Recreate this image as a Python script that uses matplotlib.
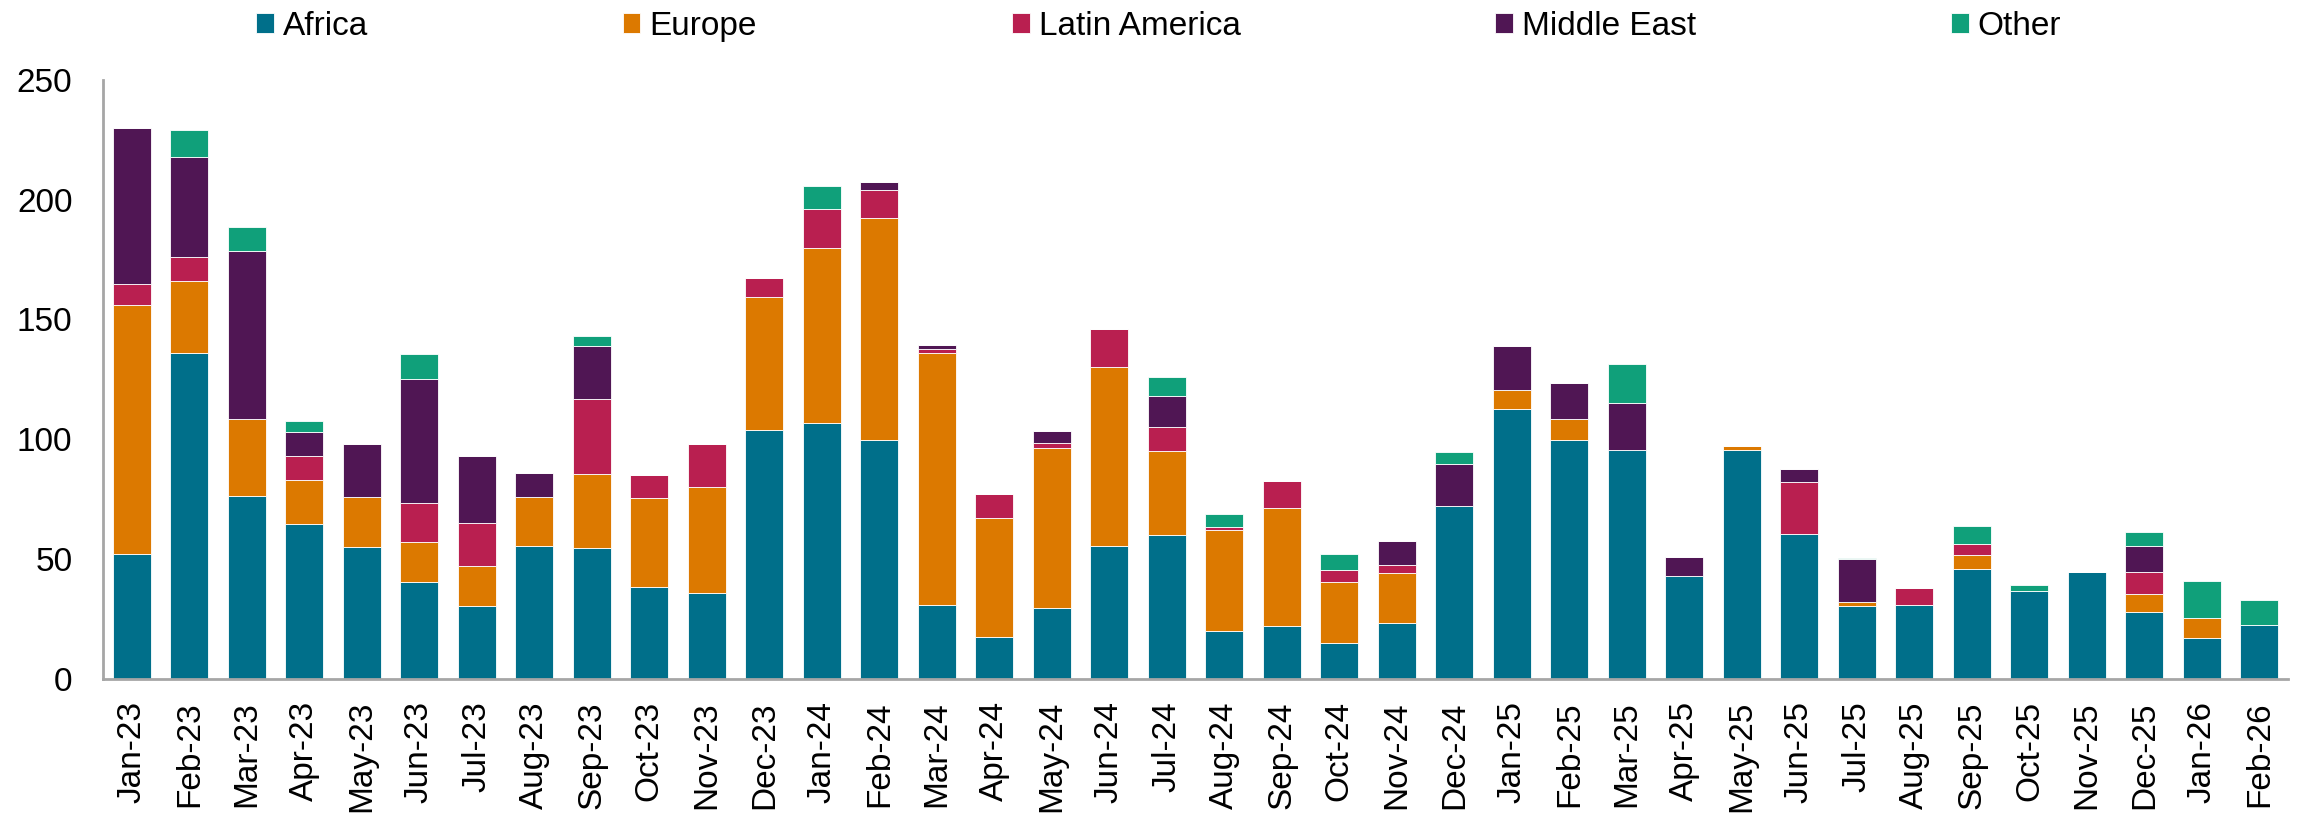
import matplotlib
matplotlib.use("Agg")
import matplotlib.pyplot as plt
import numpy as np

months = ["Jan-23", "Feb-23", "Mar-23", "Apr-23", "May-23", "Jun-23", "Jul-23", "Aug-23",
          "Sep-23", "Oct-23", "Nov-23", "Dec-23", "Jan-24", "Feb-24", "Mar-24", "Apr-24",
          "May-24", "Jun-24", "Jul-24", "Aug-24", "Sep-24", "Oct-24", "Nov-24", "Dec-24",
          "Jan-25", "Feb-25", "Mar-25", "Apr-25", "May-25", "Jun-25", "Jul-25", "Aug-25",
          "Sep-25", "Oct-25", "Nov-25", "Dec-25", "Jan-26", "Feb-26"]

africa = [52, 136, 76.5, 64.5, 55, 40.5, 30.5, 55.5, 54.5, 38.5, 36, 104, 107, 99.5, 31, 17.5,
          29.5, 55.5, 60, 20, 22, 15, 23.5, 72, 112.5, 99.5, 95.5, 43, 95.5, 60.5, 30.5, 31,
          46, 36.5, 44.5, 28, 17, 22.5]
europe = [104, 30, 32, 18.5, 21, 16.5, 16.5, 20.5, 31, 37, 44, 55.5, 73, 93, 105, 49.5,
          67, 74.5, 35, 42, 49.5, 25.5, 20.5, 0, 8, 9, 0, 0, 1.5, 0, 1.5, 0,
          5.5, 0, 0, 7.5, 8.5, 0]
latin_america = [9, 10, 0, 10, 0, 16.5, 18, 0, 31.5, 9.5, 18, 8, 16, 11.5, 1.5, 10,
                 2, 16, 10, 1.5, 11, 5, 3.5, 0, 0, 0, 0, 0, 0, 21.5, 0, 7,
                 5, 0, 0, 9, 0, 0]
middle_east = [65, 42, 70, 10, 22, 51.5, 28, 10, 22, 0, 0, 0, 0, 3.5, 2, 0,
               5, 0, 13, 0, 0, 0, 10, 17.5, 18.5, 15, 19.5, 8, 0, 5.5, 18, 0,
               0, 0, 0, 11, 0, 0]
other = [0, 11, 10, 4.5, 0, 10.5, 0, 0, 4, 0, 0, 0, 9.5, 0, 0, 0,
         0, 0, 8, 5.5, 0, 6.5, 0, 5, 0, 0, 16.5, 0, 0, 0, 0.5, 0,
         7.5, 2.5, 0, 6, 15.5, 10.5]

series = [("Africa", africa, "#006F8A"),
          ("Europe", europe, "#DC7900"),
          ("Latin America", latin_america, "#B91F50"),
          ("Middle East", middle_east, "#501654"),
          ("Other", other, "#10A07A")]

plt.rcParams["font.family"] = ["Liberation Sans", "DejaVu Sans"]

fig = plt.figure(figsize=(23.05, 8.15), dpi=100)
ax = fig.add_axes([0.0447, 0.167, 0.948, 0.735])

x = np.arange(len(months))
bottom = np.zeros(len(months))
handles = []
for name, vals, color in series:
    vals = np.array(vals, dtype=float)
    b = ax.bar(x, vals, bottom=bottom, width=0.66, color=color, label=name,
               edgecolor="white", linewidth=0.6)
    handles.append(b)
    bottom += vals

ax.set_xlim(-0.5, len(months) - 0.5)
ax.set_ylim(0, 250)
ax.set_yticks(range(0, 251, 50))
ax.set_xticks(x)
ax.set_xticklabels(months, rotation=90, fontsize=24)
ax.tick_params(axis="y", labelsize=24, length=0, pad=22)
ax.tick_params(axis="x", length=0, pad=16)

for side in ["top", "right"]:
    ax.spines[side].set_visible(False)
for side in ["left", "bottom"]:
    ax.spines[side].set_color("#A6A6A6")
    ax.spines[side].set_linewidth(2)

fig.legend(handles=handles, loc="center left", bbox_to_anchor=(0.098, 0.968), ncol=5,
           frameon=False, fontsize=24, handlelength=0.53, handleheight=0.53,
           handletextpad=0.27, columnspacing=7.65)

fig.savefig("out.png", dpi=100)
